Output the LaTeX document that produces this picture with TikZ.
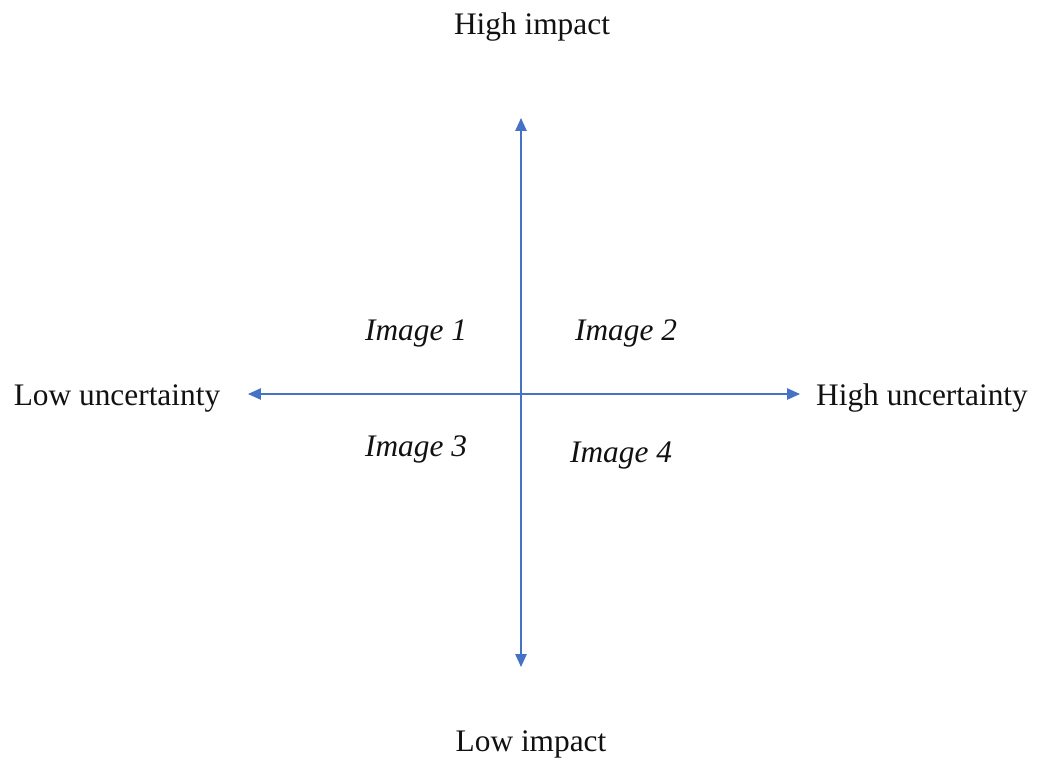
\documentclass[tikz,border=0pt]{standalone}
\usepackage{fontspec}
\setmainfont{Liberation Serif}
\usetikzlibrary{arrows.meta}

\begin{document}
\begin{tikzpicture}[x=0.025cm,y=-0.025cm,line cap=round,line join=round,
  >={Triangle[length=3.2mm,width=2.8mm]},
  font=\fontsize{22.3}{26}\selectfont]
  \definecolor{axis}{HTML}{4472C4}
  \definecolor{txt}{HTML}{111111}
  \tikzset{
    axislbl/.style={text=txt,inner sep=0pt},
    quadlbl/.style={text=txt,inner sep=0pt,font=\fontsize{22.3}{26}\selectfont\itshape},
    axisline/.style={axis,line width=1.1pt,<->}
  }

  \useasboundingbox (0,0) rectangle (1037,758);

  % axis ends
  \coordinate (top) at (521,118);
  \coordinate (bot) at (521,667);
  \coordinate (left) at (248,394);
  \coordinate (right) at (800,394);

  % axes
  \draw[axisline] (bot) -- (top);
  \draw[axisline] (left) -- (right);

  % axis labels
  \node[axislbl] (hiimp) at (532,27) {High impact};
  \node[axislbl] (loimp) at (531,744) {Low impact};
  \node[axislbl] (lounc) at (117,398) {Low uncertainty};
  \node[axislbl] (hiunc) at (922,398) {High uncertainty};

  % quadrants
  \node[quadlbl] (img1) at (416,333) {Image 1};
  \node[quadlbl] (img2) at (626,333) {Image 2};
  \node[quadlbl] (img3) at (416,449) {Image 3};
  \node[quadlbl] (img4) at (621,456) {Image 4};
\end{tikzpicture}
\end{document}
